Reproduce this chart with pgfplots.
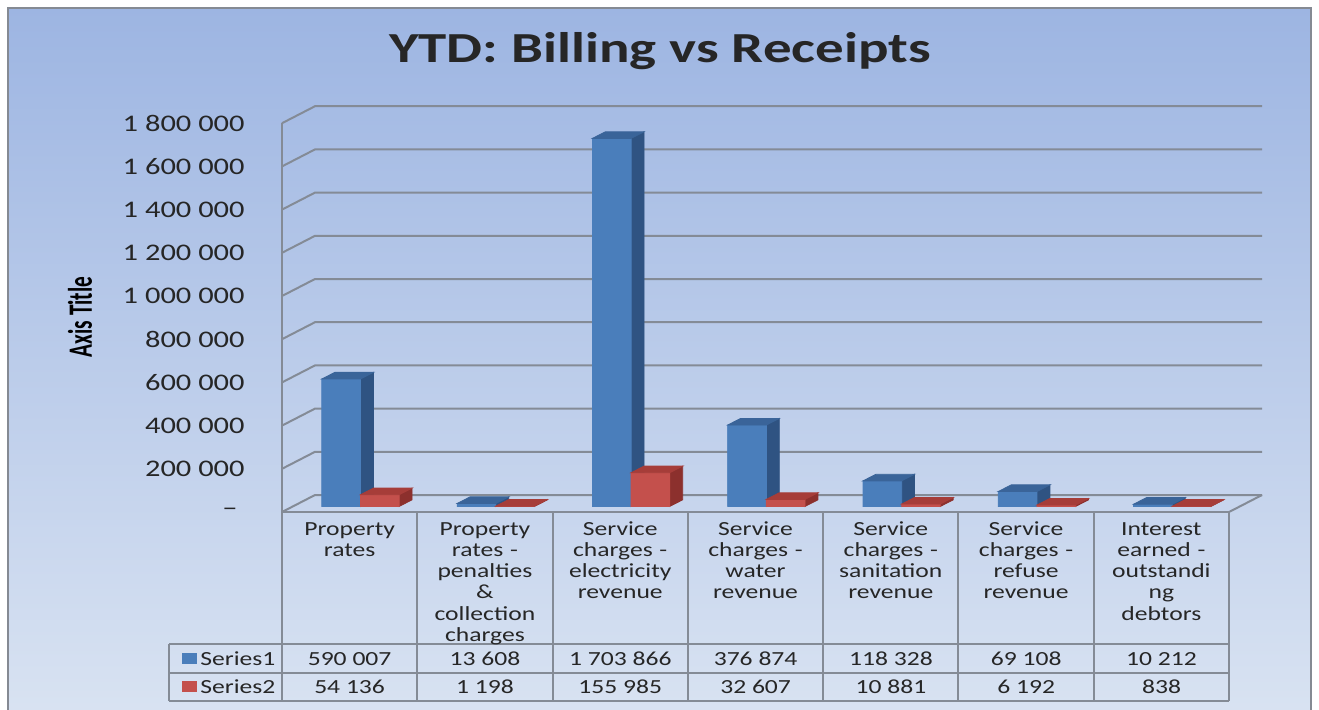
\documentclass[border=0pt]{standalone}
\usepackage{pgfplots}
\pgfplotsset{compat=1.18}
\usepackage{pgfplotstable}
\usepackage{graphicx}
\usepackage{fontspec}
\setmainfont{Carlito}[FakeStretch=1.28]
\newfontfamily\plainfont{Carlito}
\newfontfamily\titlefont{Carlito}[FakeStretch=1.33]

\definecolor{bF}{HTML}{4A7EBB}
\definecolor{bS}{HTML}{2F5382}
\definecolor{bT}{HTML}{3A6499}
\definecolor{rF}{HTML}{C4504C}
\definecolor{rS}{HTML}{8C302D}
\definecolor{rT}{HTML}{A63D39}
\definecolor{gridc}{HTML}{848B96}
\definecolor{framec}{HTML}{858A93}
\definecolor{bgTop}{HTML}{9DB5E2}
\definecolor{bgBot}{HTML}{D9E3F2}
\definecolor{txt}{HTML}{262626}

\pgfdeclareplotmark{cubeB}{%
  \pgfmathsetmacro\hh{\pgfplotspointmetatransformed*0.1944}%
  \fill[bS] (9.665pt,0pt) -- ++(6.45pt,3.3pt) -- ++(0pt,-\hh pt) -- ++(-6.45pt,-3.3pt) -- cycle;
  \fill[bF] (-9.665pt,0pt) -- (9.665pt,0pt) -- ++(0pt,-\hh pt) -- ++(-19.33pt,0pt) -- cycle;
  \fill[bT] (-9.665pt,0pt) -- (9.665pt,0pt) -- ++(6.45pt,3.3pt) -- ++(-19.33pt,0pt) -- cycle;
}
\pgfdeclareplotmark{cubeR}{%
  \pgfmathsetmacro\hh{\pgfplotspointmetatransformed*0.1944}%
  \fill[rS] (9.665pt,0pt) -- ++(6.45pt,3.3pt) -- ++(0pt,-\hh pt) -- ++(-6.45pt,-3.3pt) -- cycle;
  \fill[rF] (-9.665pt,0pt) -- (9.665pt,0pt) -- ++(0pt,-\hh pt) -- ++(-19.33pt,0pt) -- cycle;
  \fill[rT] (-9.665pt,0pt) -- (9.665pt,0pt) -- ++(6.45pt,3.3pt) -- ++(-19.33pt,0pt) -- cycle;
}

\pgfplotstableread{
x s1 s2
0.5 590007 54136
1.5 13608 1198
2.5 1703866 155985
3.5 376874 32607
4.5 118328 10881
5.5 69108 6192
6.5 10212 838
}\data

\begin{document}
\begin{tikzpicture}[x=0.5pt,y=-0.5pt]
\useasboundingbox (0,0) rectangle (1319,709);
\clip (0,0) rectangle (1319,709);
\fill[white] (0,0) rectangle (1319,709);
\node[anchor=base west, inner sep=0pt, font=\bfseries\fontsize{13.6}{14}\selectfont] at (322,-4.5) {Billing vs Receipts};
\shade[top color=bgTop, bottom color=bgBot] (8,8) rectangle (1311,720);
\draw[line width=1.2pt, framec] (8,8) rectangle (1311,720);
% walls and gridlines
\foreach \k in {0,...,9} {
  \draw[gridc, line width=1pt] (282,{512-43.2*\k}) -- (315,{495-43.2*\k}) -- (1262,{495-43.2*\k});
}
\draw[gridc, line width=1pt] (282,123.2) -- (282,512);
\draw[gridc, line width=1pt] (1229,512) -- (1262,495);
% data table grid
\draw[gridc, line width=1pt] (282,512) -- (1229,512);
\foreach \c in {282,417.3,552.6,687.9,823.2,958.4,1093.7,1229} {
  \draw[gridc, line width=1pt] (\c,512) -- (\c,701);
}
\draw[gridc, line width=1pt] (169,644) -- (1229,644);
\draw[gridc, line width=1pt] (169,673) -- (1229,673);
\draw[gridc, line width=1pt] (169,701) -- (1229,701);
\draw[gridc, line width=1pt] (169,644) -- (169,701);
% legend keys
\fill[bF] (182,652.5) rectangle (196.5,663.5);
\fill[rF] (182,681) rectangle (196.5,692);
\node[anchor=base west, inner sep=0pt, text=txt, font=\fontsize{10}{10.65}\selectfont] at (200,665) {Series1};
\node[anchor=base west, inner sep=0pt, text=txt, font=\fontsize{10}{10.65}\selectfont] at (200,693) {Series2};
% table values
\foreach \xx/\a/\b in {349.6/590 007/54 136, 485/13 608/1 198, 620.3/1 703 866/155 985, 755.6/376 874/32 607, 890.9/118 328/10 881, 1026.2/69 108/6 192, 1161.5/10 212/838} {
  \node[anchor=base, inner sep=0pt, text=txt, font=\fontsize{10}{10.65}\selectfont] at (\xx,665) {\a};
  \node[anchor=base, inner sep=0pt, text=txt, font=\fontsize{10}{10.65}\selectfont] at (\xx,693) {\b};
}
% titles
\node[anchor=base, inner sep=0pt, text=txt, font=\titlefont\bfseries\fontsize{21.4}{24}\selectfont] at (660,62) {YTD: Billing vs Receipts};
\node[inner sep=0pt, text=black] at (80,317) {\rotatebox{90}{\scalebox{1}[1.6]{\plainfont\bfseries\fontsize{10.65}{12}\selectfont Axis Title}}};

\begin{axis}[
  at={(146.45pt,-253.2pt)}, anchor=south west,
  scale only axis, width=473.5pt, height=194.4pt,
  xmin=0, xmax=7, ymin=0, ymax=1800000,
  clip=false,
  axis line style={draw=none},
  major tick length=0pt, tick style={draw=none},
  scaled y ticks=false,
  point meta min=0, point meta max=1800000,
  ytick={0,200000,400000,600000,800000,1000000,1200000,1400000,1600000,1800000},
  yticklabels={{\textendash\hspace*{3.5pt}},200 000,400 000,600 000,800 000,1 000 000,1 200 000,1 400 000,1 600 000,1 800 000},
  yticklabel style={anchor=east, inner sep=0pt, xshift=-23.95pt, yshift=-2.8pt, font=\fontsize{11.9}{12}\selectfont, text=txt},
  xtick={0.5,1.5,2.5,3.5,4.5,5.5,6.5},
  xticklabels={{Property\\rates},{Property\\rates -\\penalties\\\&\\collection\\charges},{Service\\charges -\\electricity\\revenue},{Service\\charges -\\water\\revenue},{Service\\charges -\\sanitation\\revenue},{Service\\charges -\\refuse\\revenue},{Interest\\earned -\\outstandi\\ng\\debtors}},
  xticklabel style={anchor=base, inner sep=0pt, text width=62.5pt, align=center, xshift=-5.45pt, yshift=-14.3pt, font=\fontsize{10}{10.65}\selectfont, text=txt},
]
\addplot[ybar, bar width=0.285714, bar shift=-0.142857, fill=bF, draw=none] table[x=x,y=s1]{\data};
\addplot[scatter, only marks, mark=cubeB, point meta=y, scatter/@pre marker code/.code={}, scatter/@post marker code/.code={}] table[x expr=\thisrow{x}-0.142857, y=s1]{\data};
\addplot[ybar, bar width=0.285714, bar shift=0.142857, fill=rF, draw=none] table[x=x,y=s2]{\data};
\addplot[scatter, only marks, mark=cubeR, point meta=y, scatter/@pre marker code/.code={}, scatter/@post marker code/.code={}] table[x expr=\thisrow{x}+0.142857, y=s2]{\data};
\end{axis}
\end{tikzpicture}
\end{document}
